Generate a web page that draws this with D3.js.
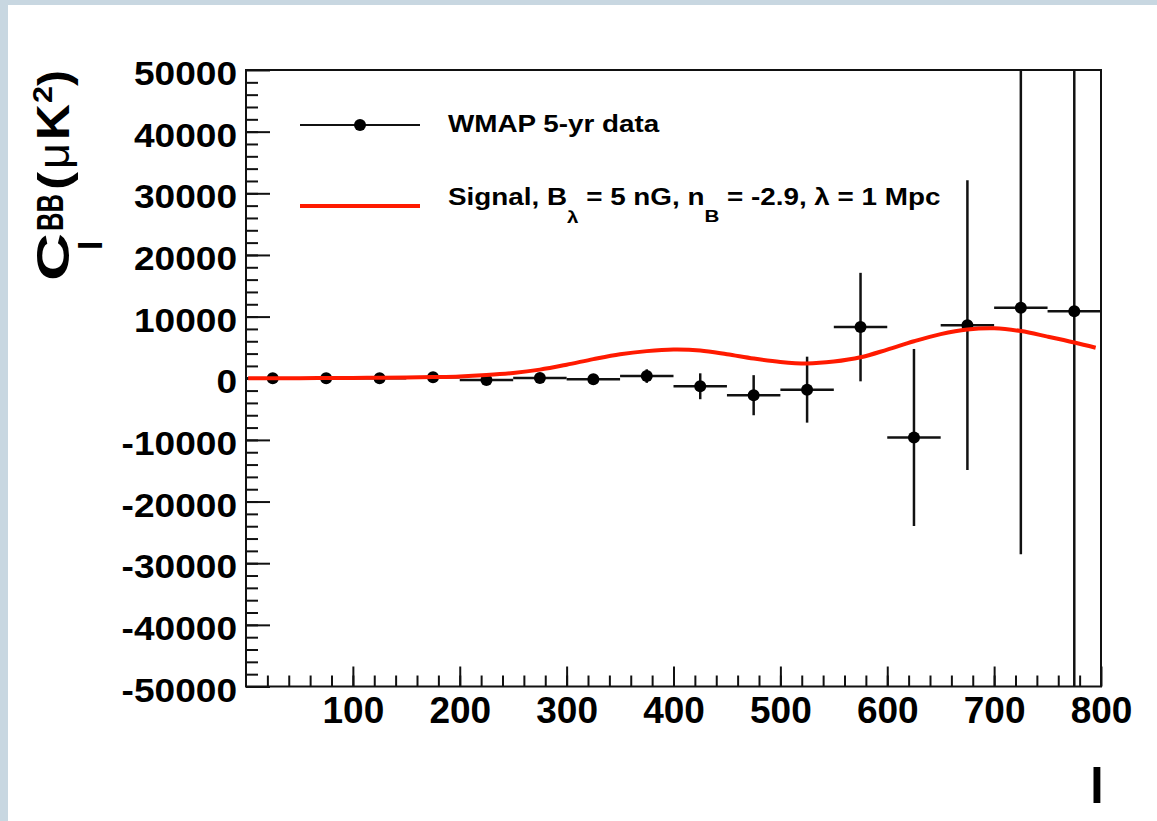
<!DOCTYPE html>
<html>
<head>
<meta charset="utf-8">
<script src="https://cdn.jsdelivr.net/npm/d3@7"></script>
<style>
  html, body { margin: 0; padding: 0; background: #c8d7e1; }
  svg { display: block; }
</style>
</head>
<body>
<div id="chart"></div>
<script>
// WMAP 5-yr data points (bin centres, value, vertical error)
const ell = [25, 75, 125, 175, 225, 275, 325, 375, 425, 475, 525, 575, 625, 675, 725, 775];
const clBB = [0, 0, 0, 150, -300, 50, -150, 350, -1300, -2750, -1850, 8300, -9600, 8600, 11450, 10850];
const clErr = [400, 400, 400, 450, 500, 600, 700, 1100, 2100, 3250, 5350, 8800, 14350, 23500, 40000, 75000];
const binHalf = 25;

// Signal curve
const sigEll = [2, 25, 50, 75, 100, 125, 150, 175, 200, 225, 250, 275, 300, 325, 350, 375, 400,
  425, 450, 475, 500, 525, 550, 575, 600, 625, 650, 675, 700, 725, 750, 775, 795];
const sigCl = [0, 10, 20, 40, 60, 90, 130, 200, 300, 520, 850, 1400, 2200, 3100, 3900, 4400, 4650,
  4500, 3900, 3200, 2650, 2400, 2700, 3400, 4650, 6000, 7150, 7900, 8100, 7650, 6750, 5800, 4950];

// Axis ticks
const xMajor = [100, 200, 300, 400, 500, 600, 700, 800];
const yMajor = [50000, 40000, 30000, 20000, 10000, 0, -10000, -20000, -30000, -40000, -50000];

const legendLabels = ["WMAP 5-yr data", "Signal"];

const svgWidth = 1157;
const svgHeight = 821;
const margin = { top: 70, right: 56, bottom: 134.5, left: 246 };
const chartWidth = svgWidth - margin.left - margin.right;
const chartHeight = svgHeight - margin.top - margin.bottom;

const font = "'Liberation Sans', Arial, Helvetica, sans-serif";

const svg = d3.select("#chart")
  .append("svg")
  .attr("width", svgWidth)
  .attr("height", svgHeight);

// white page on the blue backdrop
svg.append("rect")
  .attr("x", 8).attr("y", 5)
  .attr("width", svgWidth - 8).attr("height", svgHeight - 5)
  .attr("fill", "#ffffff");

const chartGroup = svg.append("g")
  .attr("transform", `translate(${margin.left}, ${margin.top})`);

const xScale = d3.scaleLinear().domain([0, 800]).range([0, chartWidth]);
const yScale = d3.scaleLinear().domain([-50000, 50000]).range([chartHeight, 0]);

// minor ticks
chartGroup.append("g")
  .attr("transform", `translate(0, ${chartHeight})`)
  .call(d3.axisBottom(xScale).tickValues(d3.range(20, 800, 20)).tickSize(-11).tickFormat(""))
  .call(g => g.select(".domain").remove());

chartGroup.append("g")
  .call(d3.axisLeft(yScale).tickValues(d3.range(-48000, 50000, 2000)).tickSize(-12).tickFormat(""))
  .call(g => g.select(".domain").remove());

// major ticks + labels (plain hyphen for negatives, like the original)
const xAxis = chartGroup.append("g")
  .attr("transform", `translate(0, ${chartHeight})`)
  .call(d3.axisBottom(xScale).tickValues(xMajor).tickSize(-20).tickPadding(0).tickFormat(d => String(d)))
  .call(g => g.select(".domain").remove());

xAxis.selectAll("text")
  .attr("y", 36.5).attr("dy", 0)
  .attr("fill", "#000")
  .style("font-family", font).style("font-weight", "bold").style("font-size", "37px");

const yAxis = chartGroup.append("g")
  .call(d3.axisLeft(yScale).tickValues(yMajor).tickSize(-24).tickPadding(9).tickFormat(d => String(d)))
  .call(g => g.select(".domain").remove());

yAxis.selectAll("text")
  .attr("dy", "0.43em")
  .attr("fill", "#000")
  .style("font-family", font).style("font-weight", "bold").style("font-size", "34px")
  .each(function() {
    const w = this.getComputedTextLength();
    d3.select(this).attr("textLength", w * 1.09).attr("lengthAdjust", "spacingAndGlyphs");
  });

chartGroup.selectAll(".tick line").attr("stroke", "#111").attr("stroke-width", 2);

// clip for the error bars
svg.append("defs").append("clipPath").attr("id", "plotClip")
  .append("rect").attr("width", chartWidth).attr("height", chartHeight);

const data = ell.map((l, i) => ({ l: l, v: clBB[i], e: clErr[i] }));

const points = chartGroup.append("g").attr("clip-path", "url(#plotClip)");

points.selectAll(".hbar")
  .data(data).enter().append("line")
  .attr("x1", d => xScale(d.l - binHalf))
  .attr("x2", d => xScale(d.l + binHalf))
  .attr("y1", d => yScale(d.v))
  .attr("y2", d => yScale(d.v))
  .attr("stroke", "#111").attr("stroke-width", 2.5);

points.selectAll(".vbar")
  .data(data).enter().append("line")
  .attr("x1", d => xScale(d.l))
  .attr("x2", d => xScale(d.l))
  .attr("y1", d => yScale(d.v - d.e))
  .attr("y2", d => yScale(d.v + d.e))
  .attr("stroke", "#111").attr("stroke-width", 2.5);

points.selectAll("circle")
  .data(data).enter().append("circle")
  .attr("cx", d => xScale(d.l))
  .attr("cy", d => yScale(d.v))
  .attr("r", 6)
  .attr("fill", "#000");

// signal curve
const signal = sigEll.map((l, i) => ({ l: l, v: sigCl[i] }));
const line = d3.line()
  .x(d => xScale(d.l))
  .y(d => yScale(d.v))
  .curve(d3.curveCatmullRom.alpha(0.5));

chartGroup.append("path")
  .datum(signal)
  .attr("d", line)
  .attr("fill", "none")
  .attr("stroke", "#ff1a00")
  .attr("stroke-width", 4);

// frame
chartGroup.append("rect")
  .attr("width", chartWidth).attr("height", chartHeight)
  .attr("fill", "none").attr("stroke", "#111").attr("stroke-width", 2);

// legend
const legend = svg.append("g");
legend.append("line")
  .attr("x1", 300).attr("x2", 420).attr("y1", 125).attr("y2", 125)
  .attr("stroke", "#111").attr("stroke-width", 2);
legend.append("circle")
  .attr("cx", 360).attr("cy", 125).attr("r", 6).attr("fill", "#000");
legend.append("text")
  .attr("transform", "translate(448, 132) scale(1.21, 1)")
  .style("font-family", font).style("font-weight", "bold").style("font-size", "23px")
  .text(legendLabels[0]);

legend.append("line")
  .attr("x1", 300).attr("x2", 420).attr("y1", 206).attr("y2", 206)
  .attr("stroke", "#ff1a00").attr("stroke-width", 4);
const sigText = legend.append("text")
  .attr("transform", "translate(448, 205) scale(1.21, 1)")
  .style("font-family", font).style("font-weight", "bold").style("font-size", "23px");
sigText.append("tspan").text(legendLabels[1] + ", B");
sigText.append("tspan").attr("dy", 18).style("font-size", "17px").text("λ");
sigText.append("tspan").attr("dy", -18).text(" = 5 nG, n");
sigText.append("tspan").attr("dy", 17).style("font-size", "17px").text("B");
sigText.append("tspan").attr("dy", -17).text(" = -2.9, λ = 1 Mpc");

// axis titles
svg.append("text")
  .attr("x", 1104).attr("y", 803)
  .attr("text-anchor", "end")
  .style("font-family", font).style("font-weight", "bold").style("font-size", "50px")
  .text("l");

// y title, built piece by piece in the rotated frame
const yTitle = svg.append("g")
  .attr("transform", "translate(69, 281) rotate(-90)")
  .style("font-family", font).style("font-weight", "bold");

const titlePart = (txt, x, y, size, len, weight) => {
  const t = yTitle.append("text")
    .attr("x", x).attr("y", y)
    .style("font-size", size + "px")
    .style("font-weight", weight || "bold")
    .text(txt);
  if (len) t.attr("textLength", len).attr("lengthAdjust", "spacingAndGlyphs");
  return t;
};

titlePart("C", 0, 0, 46, 48);
titlePart("l", 31, 33, 34);
titlePart("BB", 50, -6, 36, 37);
titlePart("(", 91, 0, 44, 18);
titlePart("μ", 112, 0, 44, 26, "normal");
titlePart("K", 141, 0, 46, 36);
titlePart("2", 178, -17, 28, 17);
titlePart(")", 195, 0, 44, 16);
</script>
</body>
</html>
